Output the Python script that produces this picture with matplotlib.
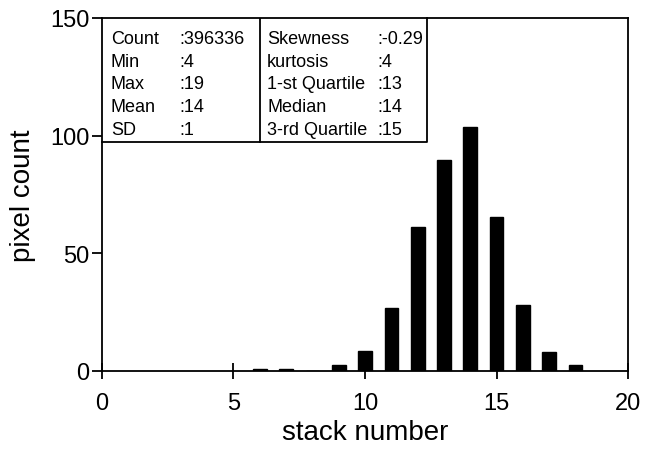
import numpy as np
import matplotlib
matplotlib.use('Agg')
import matplotlib.pyplot as plt

plt.rcParams['font.family'] = ['Liberation Sans', 'DejaVu Sans']

# Histogram of stack numbers
stack = [6, 7, 8, 9, 10, 11, 12, 13, 14, 15, 16, 17, 18]
count = [1, 1, 0, 2.7, 8.6, 26.8, 61.3, 89.8, 103.6, 65.6, 28.2, 7.9, 2.5]

# Summary statistics shown in the box
left_names = ['Count', 'Min', 'Max', 'Mean', 'SD']
left_vals = [':396336', ':4', ':19', ':14', ':1']
right_names = ['Skewness', 'kurtosis', '1-st Quartile', 'Median', '3-rd Quartile']
right_vals = [':-0.29', ':4', ':13', ':14', ':15']

fig = plt.figure(figsize=(6.45, 4.52), dpi=100)
ax = fig.add_axes([0.158, 0.177, 0.816, 0.781])

ax.bar(stack, count, width=0.52, color='black', edgecolor='black')
ax.set_xlim(0, 20)
ax.set_ylim(0, 150)
ax.set_xticks([0, 5, 10, 15, 20])
ax.set_yticks([0, 50, 100, 150])
ax.tick_params(axis='x', direction='inout', length=12, width=1.3,
               labelsize=17, pad=9)
ax.tick_params(axis='y', direction='out', length=7, width=1.3,
               labelsize=17, pad=2)
for s in ax.spines.values():
    s.set_linewidth(1.3)
ax.set_xlabel('stack number', fontsize=20, labelpad=4)
ax.set_ylabel('pixel count', fontsize=20, labelpad=10)

# statistics box
tb_right = 0.618
tb_mid = 0.300
tb_bot = 0.649
ax.plot([0, tb_right, tb_right], [tb_bot, tb_bot, 1], color='black',
        lw=1.3, transform=ax.transAxes, clip_on=False)
ax.plot([tb_mid, tb_mid], [tb_bot, 1], color='black', lw=1.3,
        transform=ax.transAxes)

rows_y = [0.9425, 0.876, 0.813, 0.749, 0.684]
for i in range(5):
    y = rows_y[i]
    ax.text(0.017, y, left_names[i], transform=ax.transAxes, fontsize=13,
            va='center')
    ax.text(0.148, y, left_vals[i], transform=ax.transAxes, fontsize=13,
            va='center')
    ax.text(0.314, y, right_names[i], transform=ax.transAxes, fontsize=13,
            va='center')
    ax.text(0.523, y, right_vals[i], transform=ax.transAxes, fontsize=13,
            va='center')

fig.savefig('out.png', dpi=100)
